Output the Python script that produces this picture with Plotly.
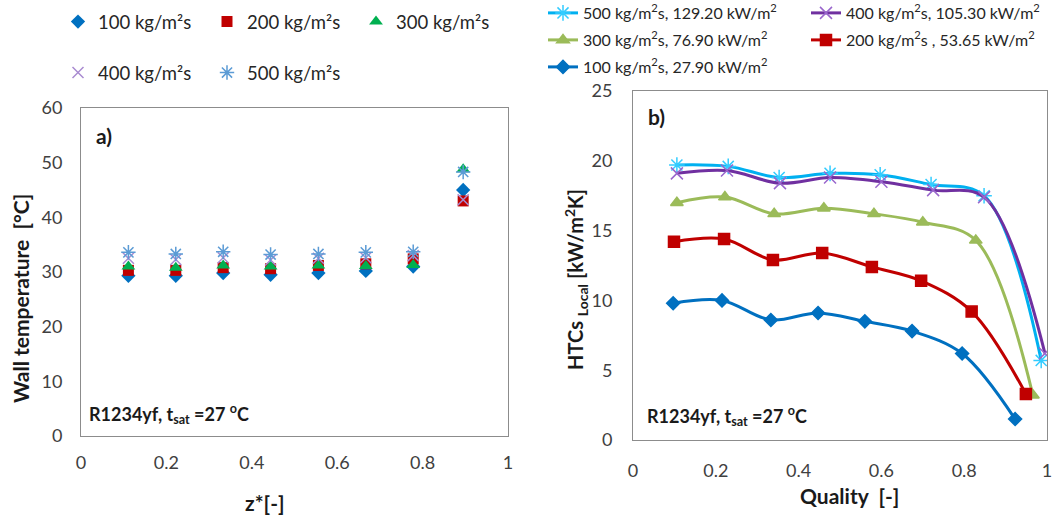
import plotly.graph_objects as go

# ---------------- data: panel a) wall temperature ----------------
z_pos = [0.111, 0.222, 0.333, 0.444, 0.556, 0.667, 0.778, 0.895]
tw_100 = [29.3, 29.3, 29.8, 29.5, 29.8, 30.2, 31.0, 45.0]
tw_200 = [30.3, 30.3, 30.8, 30.6, 31.2, 31.5, 32.4, 43.0]
tw_300 = [31.0, 30.8, 31.2, 31.0, 31.2, 31.1, 31.3, 48.8]
tw_400 = [32.5, 32.3, 32.6, 32.2, 32.5, 32.6, 33.0, 43.2]
tw_500 = [33.6, 33.3, 33.7, 33.2, 33.3, 33.6, 33.7, 48.3]
labels_a = ["100 kg/m²s", "200 kg/m²s", "300 kg/m²s", "400 kg/m²s", "500 kg/m²s"]

# ---------------- data: panel b) local HTCs ----------------
q_100 = [0.097, 0.215, 0.333, 0.447, 0.560, 0.674, 0.795, 0.923]
h_100 = [9.8, 10.0, 8.6, 9.1, 8.5, 7.8, 6.2, 1.5]
q_200 = [0.099, 0.220, 0.338, 0.457, 0.577, 0.696, 0.818, 0.949]
h_200 = [14.2, 14.4, 12.9, 13.4, 12.4, 11.4, 9.2, 3.3]
q_300 = [0.106, 0.222, 0.341, 0.461, 0.582, 0.700, 0.828, 0.966]
h_300 = [17.0, 17.4, 16.2, 16.6, 16.2, 15.6, 14.3, 3.2]
q_400 = [0.106, 0.227, 0.355, 0.476, 0.600, 0.725, 0.848, 0.995]
h_400 = [19.1, 19.3, 18.4, 18.8, 18.5, 17.9, 17.4, 6.2]
q_500 = [0.106, 0.230, 0.353, 0.476, 0.597, 0.720, 0.848, 0.986]
h_500 = [19.7, 19.6, 18.8, 19.1, 19.0, 18.3, 17.5, 5.7]
labels_b = {
    500: "500 kg/m<sup>2</sup>s, 129.20 kW/m<sup>2</sup>",
    400: "400 kg/m<sup>2</sup>s, 105.30 kW/m<sup>2</sup>",
    300: "300 kg/m<sup>2</sup>s, 76.90 kW/m<sup>2</sup>",
    200: "200 kg/m<sup>2</sup>s , 53.65 kW/m<sup>2</sup>",
    100: "100 kg/m<sup>2</sup>s, 27.90 kW/m<sup>2</sup>",
}

W, H = 1058, 518
FONT = "Lato, 'Open Sans', sans-serif"
TXT = "#262626"

fig = go.Figure()

# ---- panel a traces ----
fig.add_trace(go.Scatter(x=z_pos, y=tw_100, mode="markers", name=labels_a[0], legend="legend",
                         marker=dict(symbol="diamond", size=11, color="#0070C0"), xaxis="x", yaxis="y"))
fig.add_trace(go.Scatter(x=z_pos, y=tw_200, mode="markers", name=labels_a[1], legend="legend",
                         marker=dict(symbol="square", size=11, color="#C00000"), xaxis="x", yaxis="y"))
fig.add_trace(go.Scatter(x=z_pos, y=tw_300, mode="markers", name=labels_a[2], legend="legend",
                         marker=dict(symbol="triangle-up", size=12, color="#00B050"), xaxis="x", yaxis="y"))
fig.add_trace(go.Scatter(x=z_pos, y=tw_400, mode="markers", name=labels_a[3], legend="legend2",
                         marker=dict(symbol="x-thin-open", size=11, color="#A98BD1", line=dict(width=1.5)),
                         xaxis="x", yaxis="y"))
fig.add_trace(go.Scatter(x=z_pos, y=tw_500, mode="markers", name=labels_a[4], legend="legend2",
                         marker=dict(symbol="asterisk-open", size=12, color="#5B9BD5", line=dict(width=1.5)),
                         xaxis="x", yaxis="y"))

# ---- panel b traces ----
def add_b(xs, ys, key, color, mcolor, symbol, size, leg):
    fig.add_trace(go.Scatter(
        x=xs, y=ys, mode="lines+markers", name=labels_b[key], legend=leg,
        line=dict(color=color, width=3, shape="spline", smoothing=1.0),
        marker=dict(symbol=symbol, size=size, color=mcolor, line=dict(width=1.5, color=mcolor)),
        xaxis="x2", yaxis="y2"))

add_b(q_500, h_500, 500, "#00B0F0", "#33CCFF", "asterisk-open", 13, "legend3")
add_b(q_400, h_400, 400, "#7030A0", "#9966CC", "x-thin-open", 12, "legend3")
add_b(q_300, h_300, 300, "#9BBB59", "#9BBB59", "triangle-up", 11, "legend4")
add_b(q_200, h_200, 200, "#C00000", "#C00000", "square", 11, "legend4")
add_b(q_100, h_100, 100, "#0070C0", "#0070C0", "diamond", 10, "legend5")

axis_common = dict(showgrid=False, zeroline=False, showline=True, mirror=True,
                   linecolor="#8C8C8C", linewidth=1, ticks="",
                   tickfont=dict(family=FONT, size=18, color="#404040"))

def px_x(p):
    return p / W

def px_y(p):
    return 1 - p / H

leg_common = dict(orientation="h", xanchor="left", yanchor="middle", bgcolor="rgba(0,0,0,0)")

fig.update_layout(
    width=W, height=H, margin=dict(l=0, r=0, t=0, b=0, autoexpand=False),
    paper_bgcolor="white", plot_bgcolor="white",
    font=dict(family=FONT, color=TXT),
    xaxis=dict(domain=[px_x(81), px_x(508)], range=[0, 1], dtick=0.2, anchor="y",
               ticklabelstandoff=10, **axis_common),
    yaxis=dict(domain=[px_y(436), px_y(108)], range=[0, 60], dtick=10, anchor="x",
               ticklabelstandoff=14, **axis_common),
    xaxis2=dict(domain=[px_x(633), px_x(1047)], range=[0, 1], dtick=0.2, anchor="y2",
                ticklabelstandoff=14, **axis_common),
    yaxis2=dict(domain=[px_y(440), px_y(91)], range=[0, 25], dtick=5, anchor="x2",
                ticklabelstandoff=16, **axis_common),
    legend=dict(x=px_x(58), y=px_y(22), entrywidth=104, font=dict(size=18.5, color=TXT), **leg_common),
    legend2=dict(x=px_x(58), y=px_y(73), entrywidth=104, font=dict(size=18.5, color=TXT), **leg_common),
    legend3=dict(x=px_x(543), y=px_y(13), entrywidth=218, font=dict(size=16, color=TXT), **leg_common),
    legend4=dict(x=px_x(543), y=px_y(40), entrywidth=218, font=dict(size=16, color=TXT), **leg_common),
    legend5=dict(x=px_x(543), y=px_y(67), entrywidth=218, font=dict(size=16, color=TXT), **leg_common),
    showlegend=True,
)

ann = [
    dict(text="<b>a)</b>", x=px_x(94), y=px_y(135), xanchor="left", yanchor="middle", size=21),
    dict(text="<b>R1234yf, t<sub>sat</sub> =27 <sup>o</sup>C</b>", x=px_x(87), y=px_y(414),
         xanchor="left", yanchor="middle", size=18),
    dict(text="<b>b)</b>", x=px_x(646), y=px_y(116), xanchor="left", yanchor="middle", size=21),
    dict(text="<b>R1234yf, t<sub>sat</sub> =27 <sup>o</sup>C</b>", x=px_x(645), y=px_y(416),
         xanchor="left", yanchor="middle", size=18),
    dict(text="<b>z*[-]</b>", x=px_x(265), y=px_y(502), xanchor="center", yanchor="middle", size=21),
    dict(text="<b>Quality  [-]</b>", x=px_x(849), y=px_y(495), xanchor="center", yanchor="middle", size=21),
    dict(text="<b>Wall temperature  [°C]</b>", x=px_x(20), y=px_y(299), xanchor="center",
         yanchor="middle", size=21, textangle=-90),
    dict(text="<b>HTCs <sub>Local</sub> [kW/m<sup>2</sup>K]</b>", x=px_x(576), y=px_y(280),
         xanchor="center", yanchor="middle", size=20, textangle=-90),
]
for a in ann:
    fig.add_annotation(text=a["text"], x=a["x"], y=a["y"], xref="paper", yref="paper",
                       xanchor=a["xanchor"], yanchor=a["yanchor"], showarrow=False,
                       textangle=a.get("textangle", 0),
                       font=dict(family=FONT, size=a["size"], color="#1a1a1a"))

fig.write_html("out.html")
